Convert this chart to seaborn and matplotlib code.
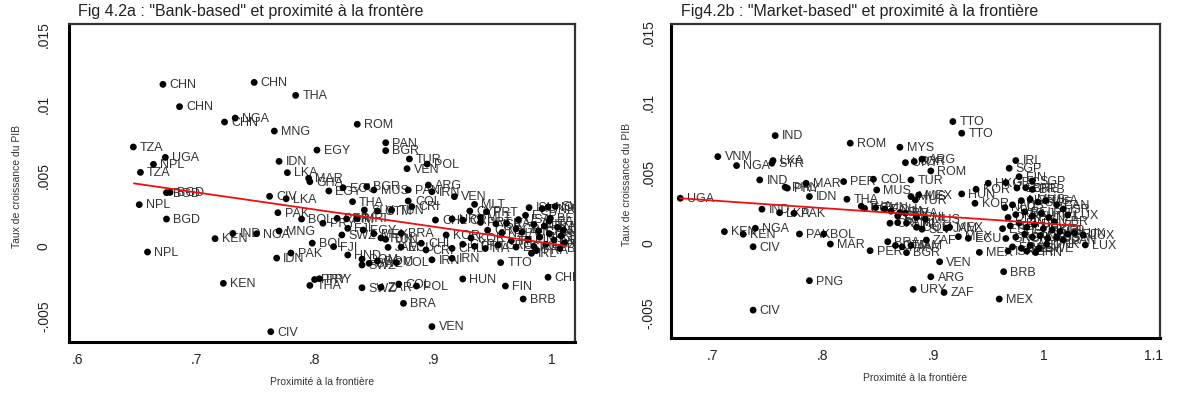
import matplotlib
matplotlib.use("Agg")
import matplotlib.pyplot as plt
import seaborn as sns
import pandas as pd

# ---------------- data: panel a ("Bank-based") ----------------
bank_codes = [
    "CHN", "CHN", "THA", "CHN", "NGA", "CHN", "MNG", "ROM", "TZA", "UGA",
    "NPL", "TZA", "EGY", "IDN", "LKA", "PAN", "BGR", "TUR", "POL", "VEN",
    "NPL", "BGD", "BGD", "BGD", "NPL", "KEN", "IND", "NGA", "KEN", "CIV",
    "CIV", "LKA", "PAK", "MNG", "IDN", "PAK", "BOL", "BOL", "MAR", "GHA",
    "PRY", "PRY", "THA", "EGY", "ECU", "BGR", "MUS", "ARG", "PAN", "IRN",
    "VEN", "THA", "COL", "CRI", "SLV", "GTM", "TUN", "MLT", "CYP", "PRT",
    "CHL", "URY", "CRI", "PRY", "PER", "PRI", "MRI", "SWZ", "FJI", "EGY",
    "MEX", "TUN", "TUN", "BRA", "KOR", "FJI", "JAM", "ECU", "CHL", "CRI",
    "CHL", "HND", "DOM", "SWZ", "DOM", "COL", "IRN", "IRN", "TTO", "IRL",
    "HUN", "FIN", "BRB", "CHE", "BRA", "VEN", "SWZ", "ZAR", "COL", "POL",
    "SWZ",
    "ISL", "NOR", "SWE", "DNK", "ESP", "BEL", "ITA", "AUT", "FRA", "NLD",
    "GBR", "USA", "CAN", "AUS", "NZL", "JPN", "GRC", "ISR", "PRT", "KOR",
    "SGP", "HKG", "FIN", "IRL", "DEU", "CHE", "LUX", "AUT", "GRC", "ESP",
    "ITA", "PRT", "CYP", "MLT", "BEL", "FRA", "CAN", "USA",
]
bank_prox = [
    0.672, 0.749, 0.784, 0.686, 0.733, 0.724, 0.766, 0.836, 0.647, 0.674,
    0.664, 0.653, 0.802, 0.770, 0.777, 0.860, 0.860, 0.880, 0.895, 0.878,
    0.652, 0.675, 0.678, 0.675, 0.659, 0.716, 0.731, 0.751, 0.723, 0.763,
    0.762, 0.776, 0.769, 0.770, 0.768, 0.780, 0.789, 0.798, 0.795, 0.796,
    0.800, 0.804, 0.796, 0.812, 0.824, 0.844, 0.850, 0.896, 0.879, 0.899,
    0.918, 0.832, 0.879, 0.882, 0.842, 0.853, 0.865, 0.935, 0.931, 0.945,
    0.902, 0.916, 0.925, 0.807, 0.819, 0.827, 0.836, 0.823, 0.828, 0.841,
    0.850, 0.856, 0.860, 0.873, 0.911, 0.816, 0.862, 0.873, 0.890, 0.894,
    0.916, 0.828, 0.840, 0.846, 0.853, 0.869, 0.899, 0.916, 0.957, 0.983,
    0.925, 0.961, 0.976, 0.997, 0.875, 0.899, 0.840, 0.856, 0.871, 0.886,
    0.840,
    0.981, 0.997, 1.003, 0.992, 0.978, 0.999, 0.962, 0.985, 0.994, 1.005,
    0.970, 1.010, 0.989, 0.975, 0.958, 0.998, 0.946, 0.953, 0.940, 0.932,
    1.008, 0.990, 0.980, 0.966, 1.002, 1.011, 0.995, 0.985, 0.955, 0.970,
    0.944, 0.935, 0.925, 0.940, 1.007, 0.987, 0.998, 0.972,
]
bank_growth = [
    0.01144, 0.01158, 0.01066, 0.00986, 0.00905, 0.00877, 0.00813, 0.00861, 0.00700, 0.00626,
    0.00577, 0.00520, 0.00678, 0.00598, 0.00518, 0.00730, 0.00674, 0.00615, 0.00579, 0.00546,
    0.00291, 0.00376, 0.00378, 0.00189, -0.00045, 0.00050, 0.00087, 0.00085, -0.00267, -0.00610,
    0.00350, 0.00333, 0.00234, 0.00104, -0.00088, -0.00052, 0.00189, 0.00018, 0.00478, 0.00454,
    -0.00240, -0.00234, -0.00282, 0.00388, 0.00411, 0.00419, 0.00395, 0.00430, 0.00395, 0.00383,
    0.00348, 0.00312, 0.00317, 0.00277, 0.00253, 0.00246, 0.00253, 0.00293, 0.00246, 0.00241,
    0.00182, 0.00189, 0.00182, 0.00159, 0.00194, 0.00190, 0.00192, 0.00076, 0.00123, 0.00111,
    0.00085, 0.00055, 0.00045, 0.00088, 0.00076, -0.00007, -0.00012, -0.00010, 0.00017, -0.00030,
    -0.00019, -0.00066, -0.00095, -0.00125, -0.00110, -0.00120, -0.00100, -0.00090, -0.00120, -0.00054,
    -0.00236, -0.00286, -0.00378, -0.00224, -0.00409, -0.00574, -0.00298, -0.00295, -0.00272, -0.00286,
    -0.00137,
    0.00270, 0.00275, 0.00278, 0.00262, 0.00215, 0.00195, 0.00160, 0.00150, 0.00140, 0.00130,
    0.00120, 0.00110, 0.00105, 0.00095, 0.00090, 0.00085, 0.00110, 0.00155, 0.00165, 0.00055,
    0.00070, 0.00060, 0.00045, 0.00035, 0.00040, 0.00020, 0.00010, -0.00005, 0.00005, -0.00010,
    -0.00020, -0.00005, 0.00010, 0.00200, -0.00020, -0.00035, 0.00175, 0.00185,
]
bank_fit_x = [0.6475, 1.013]
bank_fit_y = [0.00442, -0.00002]

# ---------------- data: panel b ("Market-based") ----------------
market_codes = [
    "UGA", "VNM", "NGA", "IND", "LKA", "SYR", "IND", "PHL", "PRY", "MAR",
    "IDN", "PER", "COL", "MUS", "THA", "ROM", "MYS", "URY", "JOR", "ARG",
    "ROM", "TUR", "TTO", "TTO", "IND", "LKA", "PAK", "KEN", "KEN", "NGA",
    "CIV", "PAK", "BOL", "MAR", "PER", "PNG", "CIV", "VEN", "ARG", "URY",
    "ZAF", "MEX", "BRB", "MEX", "LUX", "LUX", "LUX", "BGR", "THA", "EGY",
    "TUN", "ECU", "JAM", "SLV", "MUS", "MEX", "TUR", "HUN", "KOR", "KOR",
    "HKG", "IRL", "SGP", "FIN", "SGP", "GRC", "GBR", "CHE", "BRB", "ZAF",
    "MEX", "ECU", "JAM", "MEX", "CRI", "PAN", "CHL", "DOM", "SLV", "BRA",
    "GTM", "PAN", "JAM", "ISR", "CRI", "BRA", "CHL", "MUS",
    "NLD", "AUS", "NOR", "MUS", "SWE", "USA", "CAN", "ISR", "DNK", "FRA",
    "BEL", "AUT", "JPN", "NZL", "GBR", "ESP", "ITA", "FIN", "CHE", "DEU",
    "HKG", "SGP", "IRL", "PRT", "LUX", "GRC", "KOR", "ISL", "NOR", "NLD",
    "AUS", "USA", "CAN", "FRA", "BEL", "AUT", "SWE", "DNK", "ISR", "FIN",
]
market_prox = [
    0.671, 0.705, 0.722, 0.757, 0.755, 0.754, 0.743, 0.766, 0.768, 0.785,
    0.788, 0.819, 0.846, 0.849, 0.822, 0.825, 0.870, 0.875, 0.883, 0.890,
    0.898, 0.880, 0.918, 0.926, 0.745, 0.761, 0.774, 0.711, 0.728, 0.739,
    0.737, 0.779, 0.801, 0.807, 0.843, 0.788, 0.737, 0.906, 0.898, 0.882,
    0.910, 0.960, 0.964, 0.942, 1.038, 1.036, 1.022, 0.876, 0.835, 0.838,
    0.848, 0.856, 0.862, 0.870, 0.880, 0.887, 0.884, 0.926, 0.938, 0.939,
    0.950, 0.975, 0.969, 0.978, 0.990, 0.966, 0.976, 0.984, 0.990, 0.894,
    0.923, 0.932, 0.912, 0.915, 0.861, 0.868, 0.876, 0.885, 0.890, 0.859,
    0.866, 0.872, 0.880, 0.968, 0.868, 0.875, 0.885, 0.893,
    0.965, 0.972, 0.980, 0.988, 0.995, 1.002, 1.012, 1.018, 0.968, 0.975,
    0.983, 0.990, 0.998, 1.005, 1.010, 0.963, 0.970, 0.978, 0.985, 0.992,
    1.000, 1.008, 1.015, 1.022, 1.028, 0.966, 0.975, 0.983, 0.990, 0.997,
    1.004, 1.012, 1.018, 0.972, 0.980, 0.988, 0.996, 1.003, 0.985, 0.993,
]
market_growth = [
    0.00317, 0.00614, 0.00550, 0.00764, 0.00586, 0.00567, 0.00448, 0.00396, 0.00389, 0.00424,
    0.00329, 0.00436, 0.00453, 0.00376, 0.00310, 0.00710, 0.00681, 0.00571, 0.00579, 0.00596,
    0.00512, 0.00448, 0.00864, 0.00781, 0.00239, 0.00214, 0.00210, 0.00079, 0.00060, 0.00103,
    -0.00029, 0.00062, 0.00062, -0.00010, -0.00057, -0.00271, -0.00481, -0.00136, -0.00243, -0.00333,
    -0.00355, -0.00402, -0.00207, -0.00069, -0.00016, 0.00055, 0.00198, -0.00071, 0.00260, 0.00245,
    0.00250, 0.00240, 0.00225, 0.00215, 0.00329, 0.00340, 0.00305, 0.00348, 0.00281, 0.00381,
    0.00424, 0.00586, 0.00531, 0.00471, 0.00441, 0.00429, 0.00390, 0.00392, 0.00380, 0.00019,
    0.00043, 0.00031, 0.00103, 0.00110, 0.00139, 0.00143, 0.00140, 0.00110, 0.00096, 0.00007,
    -0.00020, -0.00030, -0.00020, -0.00059, 0.00190, 0.00210, 0.00180, 0.00170,
    0.00250, 0.00270, 0.00300, 0.00310, 0.00290, 0.00300, 0.00270, 0.00240, 0.00180, 0.00200,
    0.00220, 0.00190, 0.00210, 0.00180, 0.00150, 0.00100, 0.00120, 0.00140, 0.00110, 0.00130,
    0.00100, 0.00090, 0.00080, 0.00060, 0.00070, 0.00030, 0.00040, 0.00060, 0.00040, 0.00050,
    0.00030, 0.00040, 0.00020, -0.00030, -0.00040, -0.00020, -0.00040, -0.00010, -0.00060, -0.00070,
]
market_fit_x = [0.671, 1.033]
market_fit_y = [0.00317, 0.00120]

# ---------------- tick labels ----------------
y_ticks = [-0.005, 0.0, 0.005, 0.01, 0.015]
y_tick_labels = ["-.005", "0", ".005", ".01", ".015"]
bank_x_ticks = [0.6, 0.7, 0.8, 0.9, 1.0]
bank_x_tick_labels = [".6", ".7", ".8", ".9", "1"]
market_x_ticks = [0.7, 0.8, 0.9, 1.0, 1.1]
market_x_tick_labels = [".7", ".8", ".9", "1", "1.1"]

sns.set_style("white")
plt.rcParams["font.family"] = ["Liberation Sans", "DejaVu Sans"]

fig = plt.figure(figsize=(11.83, 4.07), dpi=100)
ax_a = fig.add_axes([0.0583, 0.1597, 0.4277, 0.7813])
ax_b = fig.add_axes([0.5672, 0.1695, 0.4134, 0.7715])


def draw(ax, codes, xs, ys, fx, fy, xlim, ylim, xt, xtl, ypad, ylab_x):
    df = pd.DataFrame({"code": codes, "prox": xs, "growth": ys})
    sns.scatterplot(data=df, x="prox", y="growth", ax=ax, color="black",
                    s=24, edgecolor="none", linewidth=0, zorder=3)
    for c, xv, yv in zip(codes, xs, ys):
        ax.annotate(c, (xv, yv), xytext=(4.8, -0.6), textcoords="offset points",
                    fontsize=9, color="#333333", va="center", ha="left",
                    annotation_clip=False, clip_on=True, zorder=2)
    fit = pd.DataFrame({"x": fx, "y": fy})
    sns.lineplot(data=fit, x="x", y="y", ax=ax, color="#ee1010", linewidth=1.3,
                 zorder=4)
    ax.set_xlim(*xlim)
    ax.set_ylim(*ylim)
    ax.set_xticks(xt)
    ax.set_xticklabels(xtl, fontsize=10)
    ax.set_yticks(y_ticks)
    ax.set_yticklabels(y_tick_labels, fontsize=10, rotation=90, va="center")
    ax.tick_params(axis="both", direction="out", length=5, width=1.3,
                   color="black", pad=3, labelcolor="#222222")
    ax.tick_params(axis="y", pad=ypad)
    ax.set_xlabel("Proximité à la frontière", fontsize=7.5, color="#333333",
                  labelpad=7)
    ax.set_ylabel("Taux de croissance du PIB", fontsize=7.5, color="#333333")
    ax.yaxis.set_label_coords(ylab_x, 0.49)
    for side in ["left", "bottom"]:
        ax.spines[side].set_linewidth(2.2)
        ax.spines[side].set_color("black")
    for side in ["top", "right"]:
        ax.spines[side].set_linewidth(1.6)
        ax.spines[side].set_color("#333333")


draw(ax_a, bank_codes, bank_prox, bank_growth, bank_fit_x, bank_fit_y,
     (0.5927, 1.0197), (-0.00683, 0.01572), bank_x_ticks, bank_x_tick_labels,
     8, -0.092)
draw(ax_b, market_codes, market_prox, market_growth, market_fit_x, market_fit_y,
     (0.6626, 1.1057), (-0.0068, 0.0156), market_x_ticks, market_x_tick_labels,
     6, -0.08)

fig.text(78 / 1183, 1 - 11.5 / 407,
         'Fig 4.2a : "Bank-based" et proximité à la frontère',
         fontsize=11.5, color="#222222", ha="left", va="center")
fig.text(681 / 1183, 1 - 11.5 / 407,
         'Fig4.2b : "Market-based" et proximité à la frontière',
         fontsize=11.5, color="#222222", ha="left", va="center")

fig.savefig("out.png", dpi=100)
